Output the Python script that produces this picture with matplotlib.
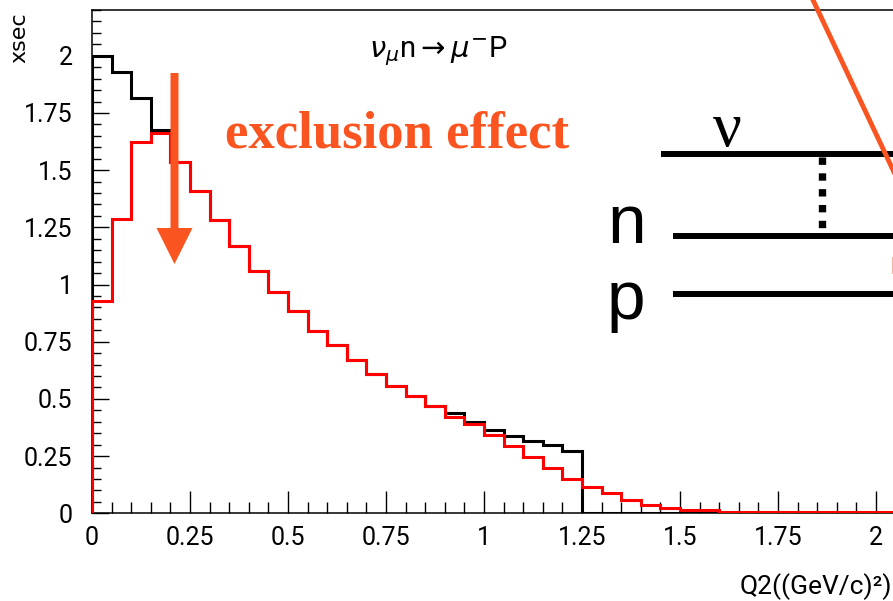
import matplotlib
matplotlib.use("Agg")
import matplotlib.pyplot as plt
import numpy as np
from matplotlib.patches import FancyArrow
from matplotlib.ticker import MultipleLocator, FixedLocator, FixedFormatter

# ---- data ----------------------------------------------------------------
bin_width = 0.05
# cross section without the exclusion (Pauli blocking) effect
xsec_free = [2.0, 1.927, 1.815, 1.676, 1.537, 1.409, 1.282, 1.168, 1.061, 0.969,
             0.883, 0.799, 0.734, 0.668, 0.609, 0.555, 0.511, 0.467, 0.438, 0.401,
             0.365, 0.340, 0.318, 0.299, 0.273,
             0.0, 0.0, 0.0, 0.0, 0.0, 0.0, 0.0, 0.0, 0.0, 0.0, 0.0, 0.0, 0.0, 0.0,
             0.0, 0.0, 0.0]
# cross section with the exclusion effect
xsec_excl = [0.930, 1.288, 1.623, 1.661, 1.537, 1.409, 1.282, 1.168, 1.061, 0.969,
             0.883, 0.799, 0.734, 0.668, 0.609, 0.555, 0.511, 0.467, 0.423, 0.391,
             0.343, 0.296, 0.248, 0.197, 0.149,
             0.117, 0.090, 0.058, 0.036, 0.022, 0.014, 0.014,
             0.005, 0.005, 0.005, 0.004, 0.004, 0.004, 0.004, 0.004, 0.004, 0.004]
edges = np.arange(len(xsec_free) + 1) * bin_width

major_ticks = [0, 0.25, 0.5, 0.75, 1, 1.25, 1.5, 1.75, 2]
tick_labels = ["0", "0.25", "0.5", "0.75", "1", "1.25", "1.5", "1.75", "2"]

# ---- style ---------------------------------------------------------------
plt.rcParams["font.family"] = ["Roboto", "DejaVu Sans"]
ORANGE = "#FA5520"

W, H = 893, 601
fig = plt.figure(figsize=(W / 100, H / 100), dpi=100)

# main histogram axes (right side runs off the figure edge)
ax = fig.add_axes([92 / W, (H - 513.3) / H, 1 - 92 / W, (513.3 - 10) / H])
ax.set_xlim(0, (W - 92) / 392.0)
ax.set_ylim(0, 2.2)

ax.stairs(xsec_free, edges, baseline=0, color="black", lw=2.2, zorder=3)
ax.stairs(xsec_excl, edges, baseline=0, color="#FF0000", lw=2.2, zorder=4)

for side in ("left", "bottom", "top"):
    ax.spines[side].set_linewidth(1.1)
    ax.spines[side].set_color("black")
ax.spines["right"].set_visible(False)

ax.xaxis.set_major_locator(FixedLocator(major_ticks))
ax.xaxis.set_major_formatter(FixedFormatter(tick_labels))
ax.yaxis.set_major_locator(FixedLocator(major_ticks))
ax.yaxis.set_major_formatter(FixedFormatter(tick_labels))
ax.xaxis.set_minor_locator(MultipleLocator(0.05))
ax.yaxis.set_minor_locator(MultipleLocator(0.05))
ax.tick_params(axis="x", which="major", direction="in", length=16, width=1.0,
               pad=9, labelsize=18)
ax.tick_params(axis="x", which="minor", direction="in", length=8, width=1.0)
ax.tick_params(axis="y", which="major", direction="in", length=12, width=1.0,
               pad=14, labelsize=18)
ax.tick_params(axis="y", which="minor", direction="in", length=6.5, width=1.0)
ax.tick_params(top=False, right=False, which="both")

# axis titles
fig.text(19 / W, 1 - 12 / H, "xsec", rotation=90, ha="center", va="top",
         fontsize=16, family="DejaVu Sans")
fig.text(1 - 1 / W, 1 - 594 / H, "Q2((GeV/c)²)", ha="right", va="baseline",
         fontsize=19)

# reaction title
fig.text(438 / W, 1 - 57 / H, r"$\nu_{\mu}$n$\rightarrow\mu^{-}$P",
         ha="center", va="baseline", fontsize=21)

# ---- overlay in pixel coordinates for annotations -----------------------
ov = fig.add_axes([0, 0, 1, 1], zorder=10)
ov.set_xlim(0, W)
ov.set_ylim(H, 0)
ov.axis("off")
ov.patch.set_alpha(0)

ov.add_patch(FancyArrow(174.5, 73, 0, 191, width=8, head_width=36,
                        head_length=36, length_includes_head=True,
                        color=ORANGE, lw=0))
ov.text(225, 148, "exclusion effect", color=ORANGE, fontsize=38,
        fontweight="bold", family="Liberation Serif", ha="left", va="baseline")

# nucleon level sketch
ov.plot([661, 905], [154, 154], color="black", lw=4.3, solid_capstyle="butt")
ov.plot([673, 905], [236, 236], color="black", lw=4.3, solid_capstyle="butt")
ov.plot([673, 905], [294, 294], color="black", lw=4.3, solid_capstyle="butt")
ov.plot([821.7, 821.7], [157, 238], color="black", lw=5.3,
        linestyle=(0, (1, 1.15)), dash_capstyle="butt")
ov.text(727, 146, "ν", fontsize=46, family="Liberation Serif",
        ha="center", va="baseline")
ov.text(607, 243, "n", fontsize=50, family="Liberation Sans",
        ha="left", va="baseline")
ov.text(607, 319, "p", fontsize=50, family="Liberation Sans",
        ha="left", va="baseline")

# orange pointer line and edge of a marker ring
ov.plot([805, 905], [-17, 195.5], color=ORANGE, lw=3.5)
ov.plot([892.5, 892.5], [258, 272], color=ORANGE, lw=2, alpha=0.5)

fig.savefig("out.png", dpi=100)
